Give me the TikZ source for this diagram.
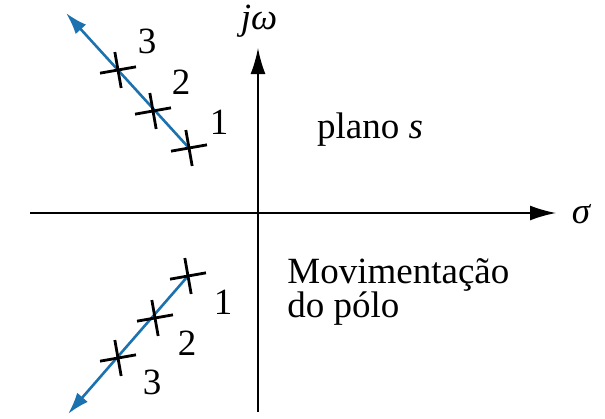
\documentclass[tikz,border=0pt]{standalone}
\usepackage{fontspec}
\setmainfont{Liberation Serif}
\usetikzlibrary{arrows.meta,shapes.misc}
\definecolor{locblue}{HTML}{1B72AE}

\begin{document}
\begin{tikzpicture}[x=0.5pt,y=-0.5pt,
      axis/.style={-{Latex[length=13pt,width=7.5pt]},line width=0.9pt},
      locus/.style={-{Latex[length=11pt,width=7pt]},line width=1.3pt,draw=locblue},
      pole/.style={draw,cross out,rotate=55,line width=1.4pt,inner sep=0pt,minimum size=11.5pt},
      lbl/.style={font=\fontsize{18.5}{17}\selectfont,inner sep=0pt}]
    \useasboundingbox (0,0) rectangle (605,418);
    % axes
    \coordinate (xl) at (30,213);
    \coordinate (xr) at (556,213);
    \coordinate (yb) at (258,412);
    \coordinate (yt) at (258,48);
    \draw[axis] (xl) -- (xr);
    \draw[axis] (yb) -- (yt);
    \node[lbl] (sigma) at (581,214) {\itshape σ};
    \node[lbl] (jw) at (259,21) {\itshape jω};
    \node[lbl] (plano) at (370,130) {plano \itshape s};
    \node[lbl,anchor=north west,align=left] (mov) at (287,258)
      {Movimentação\\do pólo};
    % upper pole path
    \coordinate (u1) at (189,148);
    \coordinate (u2) at (153,111);
    \coordinate (u3) at (118,70);
    \coordinate (utip) at (66,13);
    \draw[locus] (u1) -- (utip);
    \node[pole] (pu1) at (u1) {};
    \node[pole] (pu2) at (u2) {};
    \node[pole] (pu3) at (u3) {};
    \node[lbl] (nu1) at (219,122) {1};
    \node[lbl] (nu2) at (181,82) {2};
    \node[lbl] (nu3) at (147,41) {3};
    % lower pole path
    \coordinate (l1) at (188,276);
    \coordinate (l2) at (155,318);
    \coordinate (l3) at (118,358);
    \coordinate (ltip) at (68,414);
    \draw[locus] (l1) -- (ltip);
    \node[pole] (pl1) at (l1) {};
    \node[pole] (pl2) at (l2) {};
    \node[pole] (pl3) at (l3) {};
    \node[lbl] (nl1) at (223,302) {1};
    \node[lbl] (nl2) at (187,343) {2};
    \node[lbl] (nl3) at (152,382) {3};
  \end{tikzpicture}
\end{document}
